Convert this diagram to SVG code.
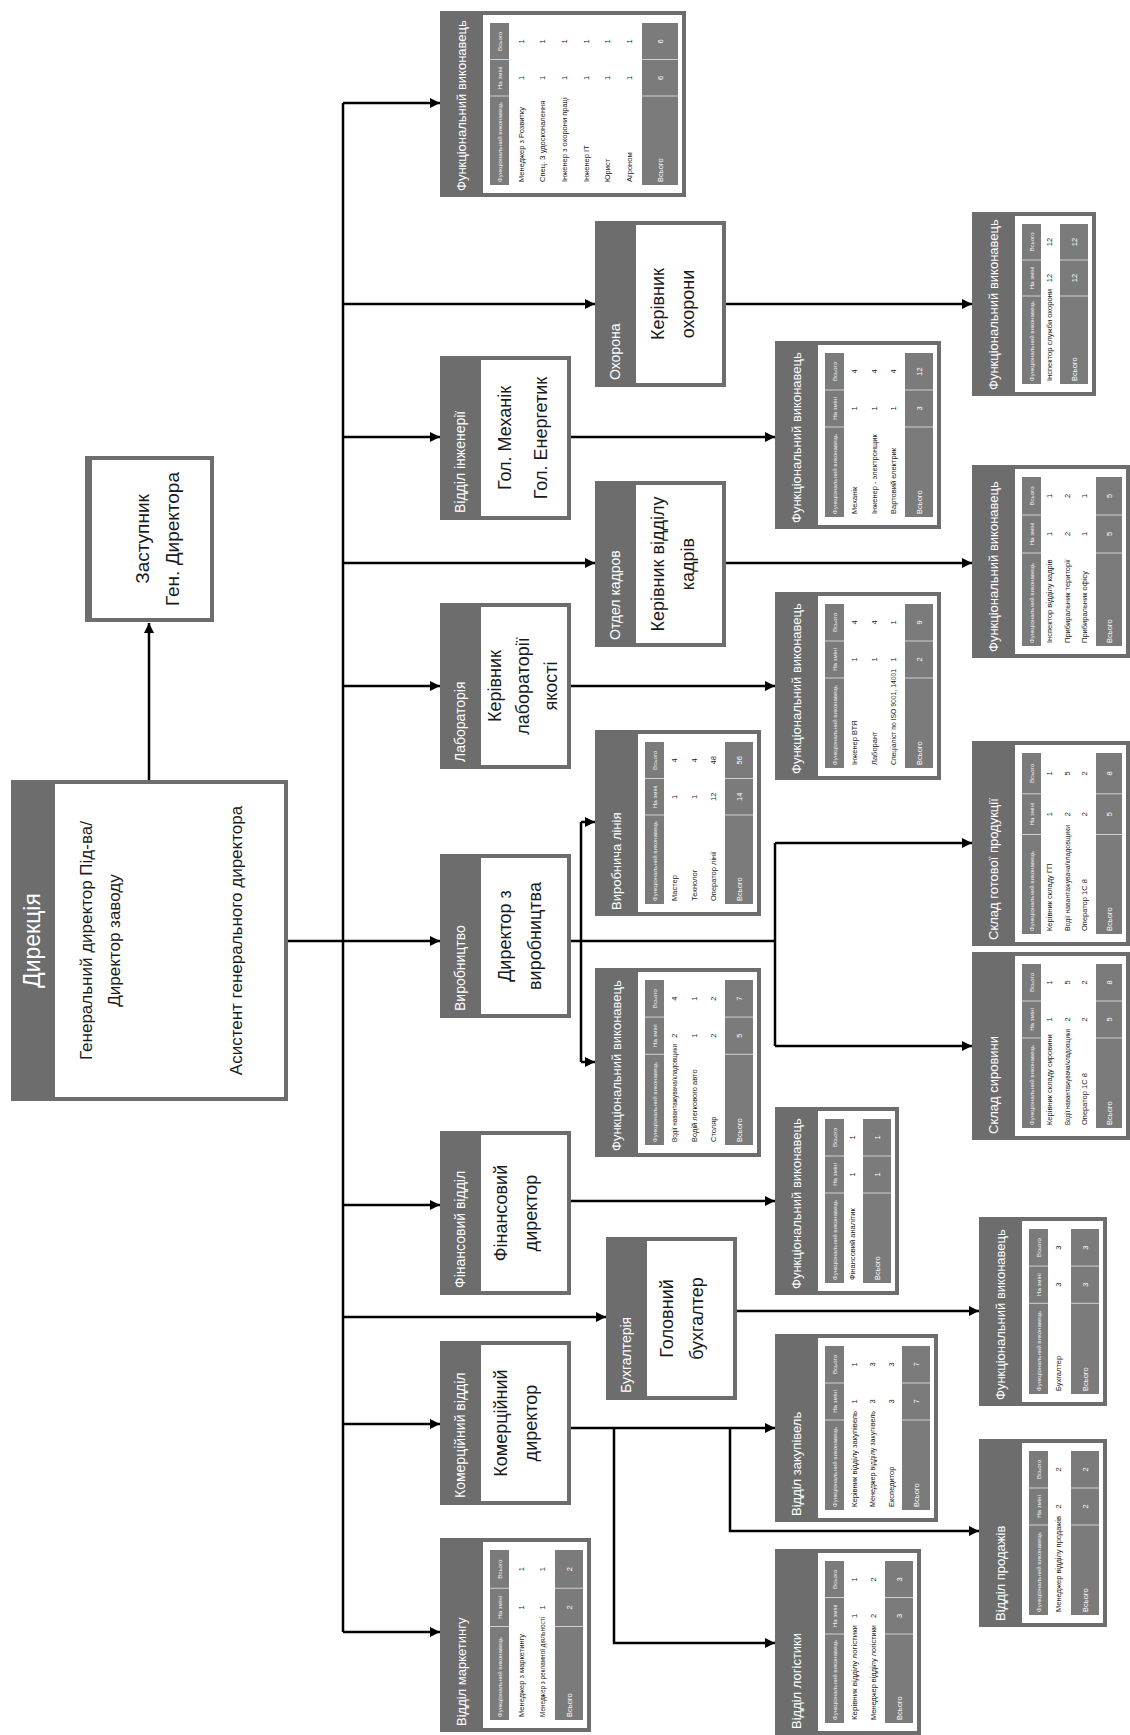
<svg xmlns="http://www.w3.org/2000/svg" width="1130" height="1735" viewBox="0 0 1130 1735">
<defs>
<style>
.fr{fill:#6d6d6d}
.bd{fill:#fff}
.hd{fill:#7b7b7b}
.dv{stroke:#d0d0d0;stroke-width:1;fill:none}
text{font-family:"Liberation Sans",Arial,sans-serif}
.tt{font-size:13px;fill:#fff}
.dt{font-size:14px;fill:#fff}
.ht{font-size:6.1px;fill:#f0f0f0}
.rt{font-size:7.5px;fill:#1a1a1a}
.ft{font-size:7.5px;fill:#fff}
.m{text-anchor:middle}
.bt{font-size:18px;fill:#1a1a1a;text-anchor:middle}
.bt2{font-size:17px;fill:#1a1a1a;text-anchor:middle}
.cn{stroke:#000;stroke-width:2.5;fill:none}
</style>
<marker id="ah" viewBox="0 0 10 10" refX="10" refY="5" markerWidth="10" markerHeight="10" markerUnits="userSpaceOnUse" orient="auto"><path d="M0,0L10,5L0,10z" fill="#000"/></marker>
</defs>
<rect width="1130" height="1735" fill="#fff"/>

<g id="connectors" class="cn">
<path d="M149,780V623" marker-end="url(#ah)"/>
<path d="M288,941H343"/>
<path d="M343,103V1632"/>
<path d="M343,103H440" marker-end="url(#ah)"/>
<path d="M343,304H595" marker-end="url(#ah)"/>
<path d="M343,437H440" marker-end="url(#ah)"/>
<path d="M343,563H595" marker-end="url(#ah)"/>
<path d="M343,686H440" marker-end="url(#ah)"/>
<path d="M343,941H440" marker-end="url(#ah)"/>
<path d="M343,1205H440" marker-end="url(#ah)"/>
<path d="M343,1317H606" marker-end="url(#ah)"/>
<path d="M343,1424H440" marker-end="url(#ah)"/>
<path d="M343,1632H440" marker-end="url(#ah)"/>
<path d="M133,941H197" marker-end="url(#ah)"/>
<path d="M726,304H972" marker-end="url(#ah)"/>
<path d="M571,437H775" marker-end="url(#ah)"/>
<path d="M726,563H972" marker-end="url(#ah)"/>
<path d="M571,686H775" marker-end="url(#ah)"/>
<path d="M571,941H775"/>
<path d="M581,822V1062"/>
<path d="M581,822H595" marker-end="url(#ah)"/>
<path d="M581,1062H595" marker-end="url(#ah)"/>
<path d="M775,843V1046"/>
<path d="M775,843H972" marker-end="url(#ah)"/>
<path d="M775,1046H972" marker-end="url(#ah)"/>
<path d="M571,1201H775" marker-end="url(#ah)"/>
<path d="M737,1311H979" marker-end="url(#ah)"/>
<path d="M571,1428H775" marker-end="url(#ah)"/>
<path d="M614,1428V1643H775" marker-end="url(#ah)"/>
<path d="M730,1428V1531H979" marker-end="url(#ah)"/>
</g>

<g id="dyrektsiia" transform="translate(11,1101) rotate(-90)">
<rect class="fr" width="321" height="277"/>
<text x="160.5" y="29" style="font-size:23px;fill:#fff" text-anchor="middle">Дирекція</text>
<rect class="bd" x="4" y="44" width="313" height="229"/>
<text class="bt2" x="160.5" y="81">Генеральний директор Під-ва/</text>
<text class="bt2" x="160.5" y="109">Директор заводу</text>
<text class="bt2" x="160.5" y="231">Асистент генерального директора</text>
</g>

<g id="zastupnyk" transform="translate(85,622) rotate(-90)">
<rect class="fr" width="166" height="129"/>
<rect class="bd" x="4" y="7" width="158" height="118"/>
<text class="bt" style="font-size:19px" x="83" y="63.5">Заступник</text>
<text class="bt" style="font-size:19px" x="83" y="93.5">Ген. Директора</text>
</g>

<g id="d-okhorona" transform="translate(595,387) rotate(-90)">
<rect class="fr" width="166" height="131"/>
<text class="dt" x="7" y="25">Охорона</text>
<rect class="bd" x="4" y="41" width="158" height="86"/>
<text class="bt" x="83" y="68.5">Керівник</text>
<text class="bt" x="83" y="98.5">охорони</text>
</g>

<g id="d-inzheneriia" transform="translate(440,520) rotate(-90)">
<rect class="fr" width="164" height="131"/>
<text class="dt" x="7" y="25">Відділ інженерії</text>
<rect class="bd" x="4" y="41" width="156" height="86"/>
<text class="bt" x="82" y="70.5">Гол. Механік</text>
<text class="bt" x="82" y="106.5">Гол. Енергетик</text>
</g>

<g id="d-kadry" transform="translate(595,647) rotate(-90)">
<rect class="fr" width="166" height="131"/>
<text class="dt" x="7" y="25">Отдел кадров</text>
<rect class="bd" x="4" y="41" width="158" height="86"/>
<text class="bt" x="83" y="68.5">Керівник відділу</text>
<text class="bt" x="83" y="98.5">кадрів</text>
</g>

<g id="d-laboratoriia" transform="translate(440,769) rotate(-90)">
<rect class="fr" width="166" height="131"/>
<text class="dt" x="7" y="25">Лабораторія</text>
<rect class="bd" x="4" y="41" width="158" height="86"/>
<text class="bt" x="83" y="60.5">Керівник</text>
<text class="bt" x="83" y="88.5">лабораторії</text>
<text class="bt" x="83" y="116.5">якості</text>
</g>

<g id="d-vyrobnytstvo" transform="translate(440,1018) rotate(-90)">
<rect class="fr" width="164" height="131"/>
<text class="dt" x="7" y="25">Виробництво</text>
<rect class="bd" x="4" y="41" width="156" height="86"/>
<text class="bt" x="82" y="70.5">Директор з</text>
<text class="bt" x="82" y="100.5">виробництва</text>
</g>

<g id="d-finansovyi" transform="translate(440,1295) rotate(-90)">
<rect class="fr" width="164" height="131"/>
<text class="dt" x="7" y="25">Фінансовий відділ</text>
<rect class="bd" x="4" y="41" width="156" height="86"/>
<text class="bt" x="82" y="66.5">Фінансовий</text>
<text class="bt" x="82" y="96.5">директор</text>
</g>

<g id="d-bukhhalteriia" transform="translate(606,1400) rotate(-90)">
<rect class="fr" width="163" height="131"/>
<text class="dt" x="7" y="25">Бухгалтерія</text>
<rect class="bd" x="4" y="41" width="155" height="86"/>
<text class="bt" x="81.5" y="66.5">Головний</text>
<text class="bt" x="81.5" y="96.5">бухгалтер</text>
</g>

<g id="d-komertsiinyi" transform="translate(440,1505) rotate(-90)">
<rect class="fr" width="164" height="131"/>
<text class="dt" x="7" y="25">Комерційний відділ</text>
<rect class="bd" x="4" y="41" width="156" height="86"/>
<text class="bt" x="82" y="66.5">Комерційний</text>
<text class="bt" x="82" y="96.5">директор</text>
</g>

<g id="t-top" transform="translate(440,197) rotate(-90)">
<rect class="fr" width="186" height="246"/>
<text class="tt" x="6" y="26">Функціональний виконавець</text>
<rect class="bd" x="4" y="43" width="178" height="199"/>
<rect class="hd" x="12" y="50" width="162" height="19"/>
<rect class="hd" x="12" y="202" width="162" height="36"/>
<path class="dv" d="M101,50v19M137.5,50v19M101,202v36M137.5,202v36"/>
<text class="ht" x="15" y="62">Функціональний виконавець</text>
<text class="ht m" x="119.2" y="62">На зміні</text>
<text class="ht m" x="155.7" y="62">Всього</text>
<text class="rt" x="15" y="83.5">Менеджер з Розвитку</text><text class="rt m" x="119.2" y="83.5">1</text><text class="rt m" x="155.7" y="83.5">1</text>
<text class="rt" x="15" y="105">Спец. З удосконалення</text><text class="rt m" x="119.2" y="105">1</text><text class="rt m" x="155.7" y="105">1</text>
<text class="rt" x="15" y="127">Інженер з охорони праці</text><text class="rt m" x="119.2" y="127">1</text><text class="rt m" x="155.7" y="127">1</text>
<text class="rt" x="15" y="148.5">Інженер IT</text><text class="rt m" x="119.2" y="148.5">1</text><text class="rt m" x="155.7" y="148.5">1</text>
<text class="rt" x="15" y="170">Юрист</text><text class="rt m" x="119.2" y="170">1</text><text class="rt m" x="155.7" y="170">1</text>
<text class="rt" x="15" y="192">Агроном</text><text class="rt m" x="119.2" y="192">1</text><text class="rt m" x="155.7" y="192">1</text>
<text class="ft" x="15" y="222.7">Всього</text><text class="ft m" x="119.2" y="222.7">6</text><text class="ft m" x="155.7" y="222.7">6</text>
</g>

<g id="t-okhorona" transform="translate(972,396) rotate(-90)">
<rect class="fr" width="184" height="124"/>
<text class="tt" x="6" y="26">Функціональний виконавець</text>
<rect class="bd" x="4" y="43" width="176" height="77"/>
<rect class="hd" x="12" y="50" width="160" height="19"/>
<rect class="hd" x="12" y="88" width="160" height="28"/>
<path class="dv" d="M100,50v19M136,50v19M100,88v28M136,88v28"/>
<text class="ht" x="15" y="62">Функціональний виконавець</text>
<text class="ht m" x="118" y="62">На зміні</text>
<text class="ht m" x="154" y="62">Всього</text>
<text class="rt" x="15" y="80" textLength="92" lengthAdjust="spacingAndGlyphs">Інспектор служби охорони</text><text class="rt m" x="118" y="80">12</text><text class="rt m" x="154" y="80">12</text>
<text class="ft" x="15" y="104.7">Всього</text><text class="ft m" x="118" y="104.7">12</text><text class="ft m" x="154" y="104.7">12</text>
</g>

<g id="t-kadry" transform="translate(972,658) rotate(-90)">
<rect class="fr" width="193" height="158"/>
<text class="tt" x="6" y="26">Функціональний виконавець</text>
<rect class="bd" x="4" y="43" width="185" height="111"/>
<rect class="hd" x="12" y="50" width="169" height="19"/>
<rect class="hd" x="12" y="124" width="169" height="26"/>
<path class="dv" d="M105,50v19M143,50v19M105,124v26M143,124v26"/>
<text class="ht" x="15" y="62">Функціональний виконавець</text>
<text class="ht m" x="124" y="62">На зміні</text>
<text class="ht m" x="162" y="62">Всього</text>
<text class="rt" x="15" y="80.4">Інспектор відділу кадрів</text><text class="rt m" x="124" y="80.4">1</text><text class="rt m" x="162" y="80.4">1</text>
<text class="rt" x="15" y="97.7">Прибиральник території</text><text class="rt m" x="124" y="97.7">2</text><text class="rt m" x="162" y="97.7">2</text>
<text class="rt" x="15" y="115">Прибиральник офісу</text><text class="rt m" x="124" y="115">1</text><text class="rt m" x="162" y="115">1</text>
<text class="ft" x="15" y="139.7">Всього</text><text class="ft m" x="124" y="139.7">5</text><text class="ft m" x="162" y="139.7">5</text>
</g>

<g id="t-inzheneriia" transform="translate(775,529) rotate(-90)">
<rect class="fr" width="188" height="166"/>
<text class="tt" x="6" y="26">Функціональний виконавець</text>
<rect class="bd" x="4" y="43" width="180" height="119"/>
<rect class="hd" x="12" y="50" width="164" height="19"/>
<rect class="hd" x="12" y="130" width="164" height="28"/>
<path class="dv" d="M102,50v19M139,50v19M102,130v28M139,130v28"/>
<text class="ht" x="15" y="62">Функціональний виконавець</text>
<text class="ht m" x="120.5" y="62">На зміні</text>
<text class="ht m" x="157.5" y="62">Всього</text>
<text class="rt" x="15" y="82.4">Механік</text><text class="rt m" x="120.5" y="82.4">1</text><text class="rt m" x="157.5" y="82.4">4</text>
<text class="rt" x="15" y="101.7">Інженер - электронщик</text><text class="rt m" x="120.5" y="101.7">1</text><text class="rt m" x="157.5" y="101.7">4</text>
<text class="rt" x="15" y="121">Вартовий електрик</text><text class="rt m" x="120.5" y="121">1</text><text class="rt m" x="157.5" y="121">4</text>
<text class="ft" x="15" y="146.7">Всього</text><text class="ft m" x="120.5" y="146.7">3</text><text class="ft m" x="157.5" y="146.7">12</text>
</g>

<g id="t-laboratoriia" transform="translate(775,780) rotate(-90)">
<rect class="fr" width="188" height="166"/>
<text class="tt" x="6" y="26">Функціональний виконавець</text>
<rect class="bd" x="4" y="43" width="180" height="119"/>
<rect class="hd" x="12" y="50" width="164" height="19"/>
<rect class="hd" x="12" y="130" width="164" height="28"/>
<path class="dv" d="M102,50v19M139,50v19M102,130v28M139,130v28"/>
<text class="ht" x="15" y="62">Функціональний виконавець</text>
<text class="ht m" x="120.5" y="62">На зміні</text>
<text class="ht m" x="157.5" y="62">Всього</text>
<text class="rt" x="15" y="82.4">Інженер ВТЯ</text><text class="rt m" x="120.5" y="82.4">1</text><text class="rt m" x="157.5" y="82.4">4</text>
<text class="rt" x="15" y="101.7">Лаборант</text><text class="rt m" x="120.5" y="101.7">1</text><text class="rt m" x="157.5" y="101.7">4</text>
<text class="rt" x="15" y="121" textLength="96" lengthAdjust="spacingAndGlyphs">Спеціаліст по ISO 9001, 14001</text><text class="rt m" x="120.5" y="121">1</text><text class="rt m" x="157.5" y="121">1</text>
<text class="ft" x="15" y="146.7">Всього</text><text class="ft m" x="120.5" y="146.7">2</text><text class="ft m" x="157.5" y="146.7">9</text>
</g>

<g id="t-vyrobnycha-liniia" transform="translate(595,916) rotate(-90)">
<rect class="fr" width="186" height="166"/>
<text class="tt" x="6" y="26">Виробнича лінія</text>
<rect class="bd" x="4" y="43" width="178" height="119"/>
<rect class="hd" x="12" y="50" width="162" height="19"/>
<rect class="hd" x="12" y="130" width="162" height="28"/>
<path class="dv" d="M101,50v19M137.5,50v19M101,130v28M137.5,130v28"/>
<text class="ht" x="15" y="62">Функціональний виконавець</text>
<text class="ht m" x="119.2" y="62">На зміні</text>
<text class="ht m" x="155.7" y="62">Всього</text>
<text class="rt" x="15" y="82.4">Мастер</text><text class="rt m" x="119.2" y="82.4">1</text><text class="rt m" x="155.7" y="82.4">4</text>
<text class="rt" x="15" y="101.7">Технолог</text><text class="rt m" x="119.2" y="101.7">1</text><text class="rt m" x="155.7" y="101.7">4</text>
<text class="rt" x="15" y="121">Оператор лінії</text><text class="rt m" x="119.2" y="121">12</text><text class="rt m" x="155.7" y="121">48</text>
<text class="ft" x="15" y="146.7">Всього</text><text class="ft m" x="119.2" y="146.7">14</text><text class="ft m" x="155.7" y="146.7">56</text>
</g>

<g id="t-vyrobnytstvo" transform="translate(595,1157) rotate(-90)">
<rect class="fr" width="189" height="166"/>
<text class="tt" x="6" y="26">Функціональний виконавець</text>
<rect class="bd" x="4" y="43" width="181" height="119"/>
<rect class="hd" x="12" y="50" width="165" height="19"/>
<rect class="hd" x="12" y="130" width="165" height="28"/>
<path class="dv" d="M102.7,50v19M139.9,50v19M102.7,130v28M139.9,130v28"/>
<text class="ht" x="15" y="62">Функціональний виконавець</text>
<text class="ht m" x="121.3" y="62">На зміні</text>
<text class="ht m" x="158.4" y="62">Всього</text>
<text class="rt" x="15" y="82.4" textLength="98" lengthAdjust="spacingAndGlyphs">Водії навантажувача/кладовщики</text><text class="rt m" x="121.3" y="82.4">2</text><text class="rt m" x="158.4" y="82.4">4</text>
<text class="rt" x="15" y="101.7">Водій легкового авто</text><text class="rt m" x="121.3" y="101.7">1</text><text class="rt m" x="158.4" y="101.7">1</text>
<text class="rt" x="15" y="121">Столяр</text><text class="rt m" x="121.3" y="121">2</text><text class="rt m" x="158.4" y="121">2</text>
<text class="ft" x="15" y="146.7">Всього</text><text class="ft m" x="121.3" y="146.7">5</text><text class="ft m" x="158.4" y="146.7">7</text>
</g>

<g id="t-sklad-hp" transform="translate(972,946) rotate(-90)">
<rect class="fr" width="205" height="158"/>
<text class="tt" x="6" y="26">Склад готової продукції</text>
<rect class="bd" x="4" y="43" width="197" height="111"/>
<rect class="hd" x="12" y="50" width="181" height="19"/>
<rect class="hd" x="12" y="124" width="181" height="26"/>
<path class="dv" d="M111.5,50v19M152.2,50v19M111.5,124v26M152.2,124v26"/>
<text class="ht" x="15" y="62">Функціональний виконавець</text>
<text class="ht m" x="131.9" y="62">На зміні</text>
<text class="ht m" x="172.6" y="62">Всього</text>
<text class="rt" x="15" y="80.4">Керівник складу ГП</text><text class="rt m" x="131.9" y="80.4">1</text><text class="rt m" x="172.6" y="80.4">1</text>
<text class="rt" x="15" y="97.7" textLength="106" lengthAdjust="spacingAndGlyphs">Водії навантажувача/кладовщики</text><text class="rt m" x="131.9" y="97.7">2</text><text class="rt m" x="172.6" y="97.7">5</text>
<text class="rt" x="15" y="115">Оператор 1С 8</text><text class="rt m" x="131.9" y="115">2</text><text class="rt m" x="172.6" y="115">2</text>
<text class="ft" x="15" y="139.7">Всього</text><text class="ft m" x="131.9" y="139.7">5</text><text class="ft m" x="172.6" y="139.7">8</text>
</g>

<g id="t-sklad-syrovyny" transform="translate(972,1140) rotate(-90)">
<rect class="fr" width="188" height="158"/>
<text class="tt" x="6" y="26">Склад сировини</text>
<rect class="bd" x="4" y="43" width="180" height="111"/>
<rect class="hd" x="12" y="50" width="164" height="19"/>
<rect class="hd" x="12" y="124" width="164" height="26"/>
<path class="dv" d="M102,50v19M139,50v19M102,124v26M139,124v26"/>
<text class="ht" x="15" y="62">Функціональний виконавець</text>
<text class="ht m" x="120.5" y="62">На зміні</text>
<text class="ht m" x="157.5" y="62">Всього</text>
<text class="rt" x="15" y="80.4">Керівник складу сировини</text><text class="rt m" x="120.5" y="80.4">1</text><text class="rt m" x="157.5" y="80.4">1</text>
<text class="rt" x="15" y="97.7" textLength="96" lengthAdjust="spacingAndGlyphs">Водії навантажувача/кладовщики</text><text class="rt m" x="120.5" y="97.7">2</text><text class="rt m" x="157.5" y="97.7">5</text>
<text class="rt" x="15" y="115">Оператор 1С 8</text><text class="rt m" x="120.5" y="115">2</text><text class="rt m" x="157.5" y="115">2</text>
<text class="ft" x="15" y="139.7">Всього</text><text class="ft m" x="120.5" y="139.7">5</text><text class="ft m" x="157.5" y="139.7">8</text>
</g>

<g id="t-finansovyi" transform="translate(775,1295) rotate(-90)">
<rect class="fr" width="188" height="124"/>
<text class="tt" x="6" y="26">Функціональний виконавець</text>
<rect class="bd" x="4" y="43" width="180" height="77"/>
<rect class="hd" x="12" y="50" width="164" height="19"/>
<rect class="hd" x="12" y="88" width="164" height="28"/>
<path class="dv" d="M102,50v19M139,50v19M102,88v28M139,88v28"/>
<text class="ht" x="15" y="62">Функціональний виконавець</text>
<text class="ht m" x="120.5" y="62">На зміні</text>
<text class="ht m" x="157.5" y="62">Всього</text>
<text class="rt" x="15" y="80">Фінансовий аналітик</text><text class="rt m" x="120.5" y="80">1</text><text class="rt m" x="157.5" y="80">1</text>
<text class="ft" x="15" y="104.7">Всього</text><text class="ft m" x="120.5" y="104.7">1</text><text class="ft m" x="157.5" y="104.7">1</text>
</g>

<g id="t-bukhhalteriia" transform="translate(979,1406) rotate(-90)">
<rect class="fr" width="189" height="128"/>
<text class="tt" x="6" y="26">Функціональний виконавець</text>
<rect class="bd" x="4" y="43" width="181" height="81"/>
<rect class="hd" x="12" y="50" width="165" height="19"/>
<rect class="hd" x="12" y="92" width="165" height="28"/>
<path class="dv" d="M102.7,50v19M139.9,50v19M102.7,92v28M139.9,92v28"/>
<text class="ht" x="15" y="62">Функціональний виконавець</text>
<text class="ht m" x="121.3" y="62">На зміні</text>
<text class="ht m" x="158.4" y="62">Всього</text>
<text class="rt" x="15" y="81.7">Бухгалтер</text><text class="rt m" x="121.3" y="81.7">3</text><text class="rt m" x="158.4" y="81.7">3</text>
<text class="ft" x="15" y="108.7">Всього</text><text class="ft m" x="121.3" y="108.7">3</text><text class="ft m" x="158.4" y="108.7">3</text>
</g>

<g id="t-prodazhi" transform="translate(979,1627) rotate(-90)">
<rect class="fr" width="188" height="128"/>
<text class="tt" x="6" y="26">Відділ продажів</text>
<rect class="bd" x="4" y="43" width="180" height="81"/>
<rect class="hd" x="12" y="50" width="164" height="19"/>
<rect class="hd" x="12" y="92" width="164" height="28"/>
<path class="dv" d="M102,50v19M139,50v19M102,92v28M139,92v28"/>
<text class="ht" x="15" y="62">Функціональний виконавець</text>
<text class="ht m" x="120.5" y="62">На зміні</text>
<text class="ht m" x="157.5" y="62">Всього</text>
<text class="rt" x="15" y="81.7" textLength="96" lengthAdjust="spacingAndGlyphs">Менеджер відділу продажів</text><text class="rt m" x="120.5" y="81.7">2</text><text class="rt m" x="157.5" y="81.7">2</text>
<text class="ft" x="15" y="108.7">Всього</text><text class="ft m" x="120.5" y="108.7">2</text><text class="ft m" x="157.5" y="108.7">2</text>
</g>

<g id="t-zakupivli" transform="translate(775,1522) rotate(-90)">
<rect class="fr" width="188" height="163"/>
<text class="tt" x="6" y="26">Відділ закупівель</text>
<rect class="bd" x="4" y="43" width="180" height="116"/>
<rect class="hd" x="12" y="50" width="164" height="19"/>
<rect class="hd" x="12" y="127" width="164" height="28"/>
<path class="dv" d="M102,50v19M139,50v19M102,127v28M139,127v28"/>
<text class="ht" x="15" y="62">Функціональний виконавець</text>
<text class="ht m" x="120.5" y="62">На зміні</text>
<text class="ht m" x="157.5" y="62">Всього</text>
<text class="rt" x="15" y="81.9" textLength="96" lengthAdjust="spacingAndGlyphs">Керівник відділу закупівель</text><text class="rt m" x="120.5" y="81.9">1</text><text class="rt m" x="157.5" y="81.9">1</text>
<text class="rt" x="15" y="100.2" textLength="96" lengthAdjust="spacingAndGlyphs">Менеджер відділу закупівель</text><text class="rt m" x="120.5" y="100.2">3</text><text class="rt m" x="157.5" y="100.2">3</text>
<text class="rt" x="15" y="118.5">Експедитор</text><text class="rt m" x="120.5" y="118.5">3</text><text class="rt m" x="157.5" y="118.5">3</text>
<text class="ft" x="15" y="143.7">Всього</text><text class="ft m" x="120.5" y="143.7">7</text><text class="ft m" x="157.5" y="143.7">7</text>
</g>

<g id="t-lohistyka" transform="translate(775,1735) rotate(-90)">
<rect class="fr" width="186" height="146"/>
<text class="tt" x="6" y="26">Відділ логістики</text>
<rect class="bd" x="4" y="43" width="178" height="99"/>
<rect class="hd" x="12" y="50" width="162" height="19"/>
<rect class="hd" x="12" y="110" width="162" height="28"/>
<path class="dv" d="M101,50v19M137.5,50v19M101,110v28M137.5,110v28"/>
<text class="ht" x="15" y="62">Функціональний виконавець</text>
<text class="ht m" x="119.2" y="62">На зміні</text>
<text class="ht m" x="155.7" y="62">Всього</text>
<text class="rt" x="15" y="82.2" textLength="95" lengthAdjust="spacingAndGlyphs">Керівник відділу логістики</text><text class="rt m" x="119.2" y="82.2">1</text><text class="rt m" x="155.7" y="82.2">1</text>
<text class="rt" x="15" y="101.2" textLength="95" lengthAdjust="spacingAndGlyphs">Менеджер відділу логістики</text><text class="rt m" x="119.2" y="101.2">2</text><text class="rt m" x="155.7" y="101.2">2</text>
<text class="ft" x="15" y="126.7">Всього</text><text class="ft m" x="119.2" y="126.7">3</text><text class="ft m" x="155.7" y="126.7">3</text>
</g>

<g id="t-marketynh" transform="translate(440,1732) rotate(-90)">
<rect class="fr" width="194" height="151"/>
<text class="tt" x="6" y="26">Відділ маркетингу</text>
<rect class="bd" x="4" y="43" width="186" height="104"/>
<rect class="hd" x="12" y="50" width="170" height="19"/>
<rect class="hd" x="12" y="115" width="170" height="28"/>
<path class="dv" d="M105.5,50v19M143.75,50v19M105.5,115v28M143.75,115v28"/>
<text class="ht" x="15" y="62">Функціональний виконавець</text>
<text class="ht m" x="124.6" y="62">На зміні</text>
<text class="ht m" x="162.9" y="62">Всього</text>
<text class="rt" x="15" y="83.5">Менеджер з маркетингу</text><text class="rt m" x="124.6" y="83.5">1</text><text class="rt m" x="162.9" y="83.5">1</text>
<text class="rt" x="15" y="105" textLength="100" lengthAdjust="spacingAndGlyphs">Менеджер з рекламної діяльності</text><text class="rt m" x="124.6" y="105">1</text><text class="rt m" x="162.9" y="105">1</text>
<text class="ft" x="15" y="131.7">Всього</text><text class="ft m" x="124.6" y="131.7">2</text><text class="ft m" x="162.9" y="131.7">2</text>
</g>
</svg>
